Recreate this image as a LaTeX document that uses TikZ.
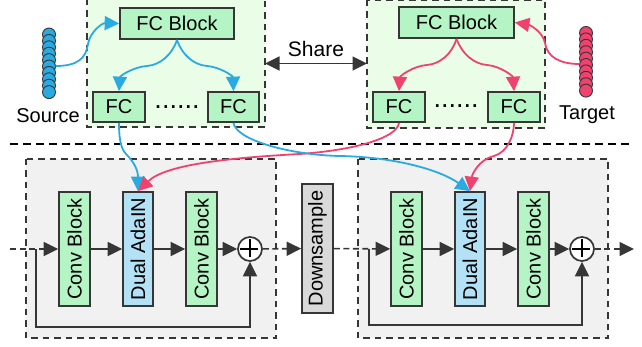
\documentclass[tikz,border=0pt]{standalone}
\usepackage{fontspec}
\setmainfont{Liberation Sans}
\usetikzlibrary{arrows.meta,calc}
\definecolor{dk}{HTML}{363636}
\definecolor{greenbox}{HTML}{B5F5C5}
\definecolor{greenpanel}{HTML}{E9FDE7}
\definecolor{graypanel}{HTML}{F1F1F1}
\definecolor{bluebox}{HTML}{B3E1F5}
\definecolor{graybox}{HTML}{D9D9D9}
\definecolor{bl}{HTML}{29ABE2}
\definecolor{pk}{HTML}{F0426E}
\tikzset{
  x=1pt,y=-1pt,
  txt/.style={font=\fontsize{20}{22}\selectfont,inner sep=0pt},
  panel/.style={draw=dk,line width=1.6pt,dash pattern=on 6.5pt off 5pt},
  box/.style 2 args={draw=dk,line width=1.7pt,fill=#1,inner sep=0pt,txt,#2},
  conn/.style={draw=dk,line width=1.6pt,-{Triangle[length=14.5pt,width=14pt]}},
  dconn/.style={conn,dash pattern=on 6pt off 3.5pt},
  cb/.style={draw=bl,line width=1.8pt,-{Triangle[length=14.5pt,width=14pt]}},
  cp/.style={draw=pk,line width=1.8pt,-{Triangle[length=14.5pt,width=14pt]}},
  bead/.style={draw=dk,line width=0.9pt,fill=#1},
  sumnode/.style={circle,draw=dk,line width=1.7pt,fill=white,minimum size=24pt,inner sep=0pt},
  plusbar/.style={black,line width=2.2pt},
  dots/.style={inner sep=0pt,font=\fontsize{27}{27}\selectfont},
}
\newcommand{\pbox}[7]{\node[box={#6}{minimum width=#3-#1,minimum height=#4-#2}] (#5) at ({(#1+#3)/2},{(#2+#4)/2}) {#7};}
\newcommand{\rbox}[7]{\node[box={#6}{minimum width=#4-#2,minimum height=#3-#1,rotate=90}] (#5) at ({(#1+#3)/2},{(#2+#4)/2}) {#7};}
\begin{document}
\begin{tikzpicture}
\useasboundingbox (0,0) rectangle (642,347);
% panels
\fill[greenpanel] (87,-1) rectangle (265,127);
\draw[panel] (87,-1) rectangle (265,127);
\fill[greenpanel] (367,0) rectangle (545,128);
\draw[panel] (367,0) rectangle (545,128);
\fill[graypanel] (26,159) rectangle (276,338);
\draw[panel] (26,159) rectangle (276,338);
\fill[graypanel] (358,159) rectangle (608,338);
\draw[panel] (358,159) rectangle (608,338);
% separator
\coordinate (sepl) at (10,144);
\coordinate (sepr) at (629,144);
\draw[black,line width=1.5pt,dash pattern=on 8pt off 5pt] (sepl) -- (sepr);
% top boxes
\pbox{120}{8}{234}{39}{fcl}{greenbox}{FC Block}
\pbox{93}{92}{145}{122}{fa}{greenbox}{FC}
\pbox{208}{92}{259}{122}{fb}{greenbox}{FC}
\pbox{399}{7}{514}{38}{fcr}{greenbox}{FC Block}
\pbox{373}{92}{425}{122}{fc}{greenbox}{FC}
\pbox{488}{92}{540}{122}{fd}{greenbox}{FC}
\node[dots] (dl) at (177,107.5) {......};
\node[dots] (dr) at (456,106.5) {......};
% bottom boxes
\rbox{59}{192}{90}{306}{ca}{greenbox}{Conv Block}
\rbox{123}{192}{153}{306}{da}{bluebox}{Dual AdaIN}
\rbox{186}{192}{217}{306}{cc}{greenbox}{Conv Block}
\rbox{302}{184}{333}{313}{ds}{graybox}{Downsample}
\rbox{391}{192}{422}{306}{cd}{greenbox}{Conv Block}
\rbox{455}{192}{485}{306}{db}{bluebox}{Dual AdaIN}
\rbox{518}{192}{549}{306}{ce}{greenbox}{Conv Block}
% sum nodes
\node[sumnode] (sa) at (250,249) {};
\draw[plusbar] (sa.north) ++(0,3) -- ++(0,18) (sa.west) ++(3,0) -- ++(18,0);
\node[sumnode] (sb) at (582,249) {};
\draw[plusbar] (sb.north) ++(0,3) -- ++(0,18) (sb.west) ++(3,0) -- ++(18,0);
% stacks
\foreach \i in {0,...,9}{
  \draw[bead=bl] (49,{34.5+\i*6.4}) circle (6.5);
  \draw[bead=pk] (586,{33+\i*6.4}) circle (6.5);
}
\node[minimum width=13pt,minimum height=70pt,inner sep=0pt] (src) at (49,63) {};
\node[minimum width=13pt,minimum height=70pt,inner sep=0pt] (tgt) at (586,61.5) {};
\node[txt] (srcl) at (48,116) {Source};
\node[txt] (tgtl) at (587,115) {Target};
% share
\node[txt,font=\fontsize{21}{22}\selectfont] (sh) at (316,49) {Share};
\coordinate (pl) at (265,63.5);
\coordinate (pr) at (367,63.5);
\draw[conn,{Triangle[length=14.5pt,width=14pt]}-{Triangle[length=14.5pt,width=14pt]}] (pl) -- (pr);
% top curves
\draw[cb] (src.east|-0,66) .. controls (78,66) and (86,58) .. (88,44) .. controls (90,32) and (102,23) .. (fcl.west);
\draw[cp] (tgt.west|-0,64) .. controls (560,64) and (547,57) .. (545,43) .. controls (543,32) and (530,25) .. (fcr.east);
\draw[cb] (fcl.south) .. controls (172,55) and (160,65) .. (147,66) .. controls (133,67) and (120,76) .. (fa.north);
\draw[cb] (fcl.south) .. controls (182,55) and (194,65) .. (207,66) .. controls (220,67) and (233,76) .. (fb.north);
\draw[cp] (fcr.south) .. controls (452,54) and (440,64) .. (427,65) .. controls (413,66) and (400,76) .. (fc.north);
\draw[cp] (fcr.south) .. controls (462,54) and (474,64) .. (487,65) .. controls (500,66) and (513,76) .. (fd.north);
% cross curves
\draw[cb] (fa.south) .. controls (119,135) and (120,148) .. (126,154) .. controls (134,162) and (138,170) .. (da.east);
\draw[cp] (fc.south) .. controls (397,138) and (355,150) .. (300,154) .. controls (225,158) and (165,165) .. (da.east);
\draw[cb] (fb.south) .. controls (236,140) and (290,155) .. (340,156) .. controls (395,157) and (440,170) .. (db.east);
\draw[cp] (fd.south) .. controls (514,135) and (508,152) .. (494,156) .. controls (478,160) and (472,175) .. (db.east);
% left block
\coordinate (ina) at (10,249);
\coordinate (ja) at (36,249);
\draw[dconn] (ina) -- (ca);
\draw[conn] (ca) -- (da);
\draw[conn] (da) -- (cc);
\draw[conn] (cc) -- (sa);
\draw[conn] (ja) -- (36,327) -| (sa.south);
\draw[dconn] (sa) -- (ds);
% right block
\coordinate (jb) at (369,249);
\coordinate (outb) at (634,249);
\draw[dconn] (ds) -- (cd);
\draw[conn] (cd) -- (db);
\draw[conn] (db) -- (ce);
\draw[conn] (ce) -- (sb);
\draw[conn] (jb) -- (369,325) -| (sb.south);
\draw[dconn] (sb) -- (outb);
\end{tikzpicture}
\end{document}
